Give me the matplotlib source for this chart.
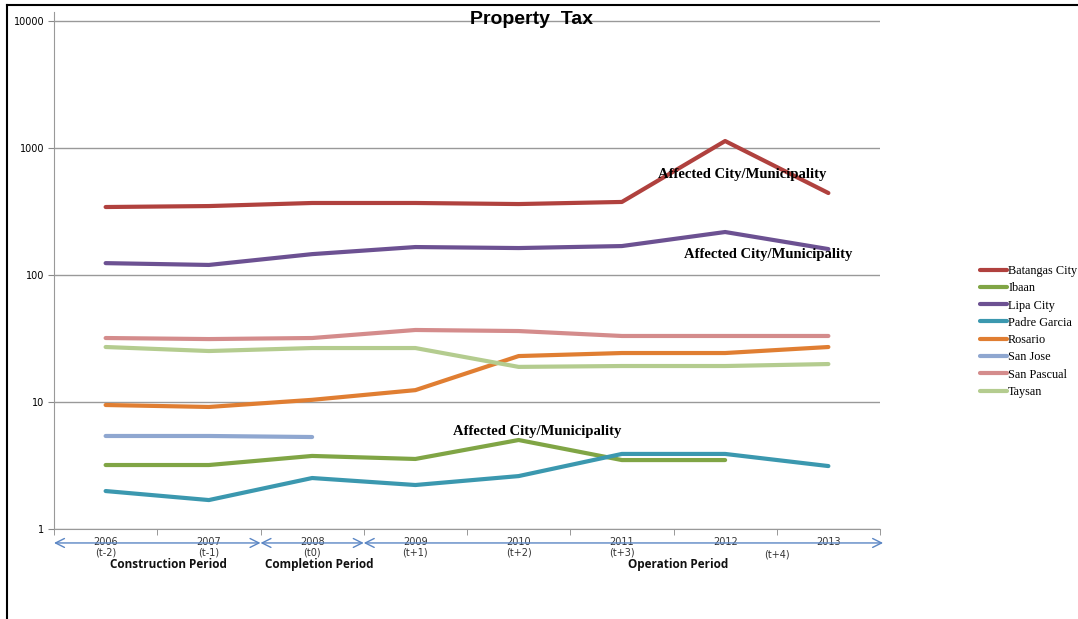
import matplotlib
matplotlib.use("Agg")
import matplotlib.pyplot as plt
from matplotlib.lines import Line2D
import matplotlib.transforms as mtransforms
import numpy as np

# Data (property tax, log scale)
years = ["2006", "2007", "2008", "2009", "2010", "2011", "2012", "2013"]
tick_labels = ["2006\n(t-2)", "2007\n(t-1)", "2008\n(t0)", "2009\n(t+1)",
               "2010\n(t+2)", "2011\n(t+3)", "2012", "2013"]

batangas = [343, 349, 369, 369, 362, 376, 1135, 442]
ibaan = [3.19, 3.19, 3.76, 3.56, 5.02, 3.49, 3.49]
lipa = [124, 120, 146, 166, 163, 169, 218, 160]
padre_garcia = [1.99, 1.69, 2.52, 2.22, 2.61, 3.90, 3.90, 3.13]
rosario = [9.47, 9.14, 10.4, 12.4, 23.0, 24.3, 24.3, 27.1]
san_jose = [5.40, 5.40, 5.30]
san_pascual = [31.9, 31.3, 31.9, 36.9, 36.2, 33.1, 33.1, 33.1]
taysan = [27.1, 25.2, 26.6, 26.6, 18.9, 19.2, 19.2, 19.9]

series = [
    ("Batangas City", batangas, "#B0413E"),
    ("Ibaan", ibaan, "#80A545"),
    ("Lipa City", lipa, "#6C5192"),
    ("Padre Garcia", padre_garcia, "#3B98AF"),
    ("Rosario", rosario, "#E07E32"),
    ("San Jose", san_jose, "#8FA7D0"),
    ("San Pascual", san_pascual, "#D48C8C"),
    ("Taysan", taysan, "#B4CC8F"),
]

fig = plt.figure(figsize=(10.78, 6.19), dpi=100)
ax = fig.add_axes([54 / 1078, 1 - 529 / 619, (880 - 54) / 1078, (529 - 12) / 619])

x = np.arange(len(years))
for name, vals, col in series:
    ax.plot(x[:len(vals)], vals, color=col, lw=3, label=name, solid_capstyle="round")

ax.set_yscale("log")
ax.set_ylim(1, 10 ** (4 + 9 / 127))
ax.set_xlim(-0.5, len(years) - 0.5)
ax.set_yticks([1, 10, 100, 1000, 10000])
ax.set_yticklabels(["1", "10", "100", "1000", "10000"])
ax.yaxis.set_minor_locator(matplotlib.ticker.NullLocator())
ax.tick_params(axis="y", labelsize=7, length=4, color="#888888", pad=3)
ax.grid(axis="y", color="#999999", lw=1)
ax.set_axisbelow(True)

ax.set_xticks(x)
ax.set_xticklabels(tick_labels, fontsize=7, color="#333333", linespacing=1.05)
ax.set_xticks(np.arange(-0.5, len(years)), minor=True)
ax.tick_params(axis="x", which="major", length=0, pad=6)
ax.tick_params(axis="x", which="minor", length=4, color="#888888")

for s in ["top", "right"]:
    ax.spines[s].set_visible(False)
for s in ["left", "bottom"]:
    ax.spines[s].set_color("#999999")

trans = mtransforms.blended_transform_factory(ax.transData, ax.transAxes)
ax.text(6.5, -0.04, "(t+4)", transform=trans,
        ha="center", va="top", fontsize=7, color="#333333")

# period arrows under the axis
for x0, x1 in [(-0.5, 1.5), (1.5, 2.5), (2.5, 7.53)]:
    ax.annotate("", xy=(x1, -0.027), xytext=(x0, -0.027), xycoords=trans, textcoords=trans,
                arrowprops=dict(arrowstyle="<->", color="#5B86C4", lw=1, shrinkA=0, shrinkB=0,
                                mutation_scale=16), annotation_clip=False)

periods = ["Construction Period", "Completion Period", "Operation Period"]
period_x = [0.61, 2.07, 5.54]
for lab, px in zip(periods, period_x):
    ax.text(px, -0.068, lab, transform=trans, ha="center", va="center",
            fontsize=8.5, fontweight="bold", family="Open Sans", color="#111111")

# annotations
notes_x = [6.17, 6.42, 4.18]
notes_y = [624, 144, 5.91]
for nx, ny in zip(notes_x, notes_y):
    ax.text(nx, ny, "Affected City/Municipality", ha="center", va="center",
            fontsize=10.5, fontweight="bold", family="Liberation Serif")

fig.text(531 / 1078, 1 - 19 / 619, "Property  Tax", ha="center", va="center",
         fontsize=14, fontweight="bold", family="Liberation Sans")

ax.legend(loc="upper left", bbox_to_anchor=(980 / 1078, 1 - 265 / 619),
          bbox_transform=fig.transFigure, frameon=False, borderpad=0, borderaxespad=0,
          handlelength=2.2, handletextpad=0.1, labelspacing=0.43,
          prop={"family": "Liberation Serif", "size": 8.8})

# outer frame (left and top edges visible)
fig.add_artist(Line2D([7 / 1078, 7 / 1078], [0, 1 - 5 / 619], color="black", lw=1.5))
fig.add_artist(Line2D([7 / 1078, 1], [1 - 5 / 619, 1 - 5 / 619], color="black", lw=1.5))

fig.savefig("out.png", dpi=100)
